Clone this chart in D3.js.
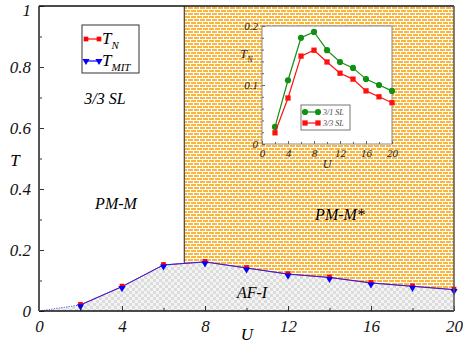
<!DOCTYPE html>
<html>
<head>
<meta charset="utf-8">
<script src="https://d3js.org/d3.v7.min.js"></script>
<style>
  body { margin: 0; background: #fff; }
  svg text { font-family: "Liberation Serif", "DejaVu Serif", serif; font-style: italic; }
</style>
</head>
<body>
<svg id="chart" width="463" height="343"></svg>
<script>
// main phase diagram data
var uVals = [2, 4, 6, 8, 10, 12, 14, 16, 18, 20];
var tN = [0.02, 0.08, 0.151, 0.161, 0.141, 0.121, 0.11, 0.092, 0.081, 0.07];
var tMIT = [0.02, 0.08, 0.151, 0.161, 0.141, 0.121, 0.11, 0.092, 0.081, 0.07];
var uBoundary = 7;
var mainXTicks = [0, 4, 8, 12, 16, 20];
var mainYTicks = [0, 0.2, 0.4, 0.6, 0.8, 1];
// inset data
var insetU = [2, 4, 6, 8, 10, 12, 14, 16, 18, 20];
var tN31 = [0.029, 0.108, 0.18, 0.19, 0.159, 0.139, 0.129, 0.11, 0.1, 0.09];
var tN33 = [0.019, 0.078, 0.149, 0.159, 0.139, 0.12, 0.11, 0.09, 0.08, 0.07];
var insetXTicks = [0, 4, 8, 12, 16, 20];
var insetYTicks = [0, 0.1, 0.2];

var svg = d3.select("#chart");
var defs = svg.append("defs");

// white brick lines, laid over solid orange
var brick = defs.append("pattern").attr("id", "brick")
  .attr("patternUnits", "userSpaceOnUse").attr("width", 6).attr("height", 6);
brick.append("path")
  .attr("d", "M0,0H6V1H0Z M0,3H6V4H0Z M1,1H2V3H1Z M4,4H5V6H4Z")
  .attr("fill", "#ffffff");

// grey checker, laid over white
var check = defs.append("pattern").attr("id", "check")
  .attr("patternUnits", "userSpaceOnUse").attr("width", 6).attr("height", 6);
check.append("path")
  .attr("d", "M0,0H3V3H0Z M3,3H6V6H3Z")
  .attr("fill", "#dcdcdc");

var m = { left: 39, right: 454, top: 6, bottom: 311 };
var x = d3.scaleLinear().domain([0, 20]).range([m.left, m.right]);
var y = d3.scaleLinear().domain([0, 1]).range([m.bottom, m.top]);

var pts = uVals.map(function(u, i) { return [u, tMIT[i]]; });
var full = [[0, 0]].concat(pts);

// AF-I region
var lowArea = d3.area().x(function(d) { return x(d[0]); }).y0(y(0)).y1(function(d) { return y(d[1]); });
svg.append("path").datum(full).attr("fill", "#f4f4f4").attr("d", lowArea);
svg.append("path").datum(full).attr("fill", "url(#check)").attr("d", lowArea);

// PM-M* region: from U=7 above the curve
var interp = d3.scaleLinear().domain(uVals).range(tMIT);
var upper = [[uBoundary, interp(uBoundary)]].concat(pts.filter(function(d) { return d[0] > uBoundary; }));
var upArea = d3.area().x(function(d) { return x(d[0]); }).y0(y(1)).y1(function(d) { return y(d[1]); });
svg.append("path").datum(upper).attr("fill", "#fbb43c").attr("d", upArea);
svg.append("path").datum(upper).attr("fill", "url(#brick)").attr("d", upArea);
svg.append("line")
  .attr("x1", x(uBoundary)).attr("x2", x(uBoundary))
  .attr("y1", y(1)).attr("y2", y(interp(uBoundary)))
  .attr("stroke", "#222").attr("stroke-width", 1);

// curves
var line = d3.line().x(function(d) { return x(d[0]); }).y(function(d) { return y(d[1]); });
svg.append("path").datum([[0, 0], pts[0]])
  .attr("fill", "none").attr("stroke", "#4040ff").attr("stroke-width", 1).attr("stroke-dasharray", "1,1.5").attr("d", line);
svg.append("path").datum(uVals.map(function(u, i) { return [u, tN[i]]; }))
  .attr("fill", "none").attr("stroke", "#ff3030").attr("stroke-width", 1).attr("d", line);
svg.append("path").datum(pts)
  .attr("fill", "none").attr("stroke", "#2020ff").attr("stroke-width", 1).attr("d", line);

var sq = d3.symbol().type(d3.symbolSquare).size(22);
var tri = d3.symbol().type(d3.symbolTriangle).size(22);
svg.selectAll(".sqN").data(uVals).enter().append("path")
  .attr("d", sq).attr("fill", "#ff0000")
  .attr("transform", function(u, i) { return "translate(" + x(u) + "," + (y(tN[i]) - 0.5) + ")"; });
svg.selectAll(".triM").data(uVals).enter().append("path")
  .attr("d", tri).attr("fill", "#0000ff")
  .attr("transform", function(u, i) { return "translate(" + x(u) + "," + (y(tMIT[i]) + 1.5) + ") rotate(180)"; });

// axes
var xAxis = d3.axisBottom(x).tickValues(mainXTicks).tickSize(-5).tickPadding(9).tickFormat(d3.format("d"));
var xMinor = d3.axisBottom(x).tickValues(d3.range(2, 20, 4)).tickSize(-3).tickFormat("");
var yAxis = d3.axisLeft(y).tickValues(mainYTicks).tickSize(-5).tickPadding(8).tickFormat(function(d) { return d === 0 || d === 1 ? d : d3.format(".1f")(d); });
var yMinor = d3.axisLeft(y).tickValues(d3.range(0.1, 1, 0.2)).tickSize(-3).tickFormat("");

function styleAxis(g) {
  g.select(".domain").remove();
  g.selectAll("line").attr("stroke", "#333");
  g.selectAll("text").attr("fill", "#111").style("font-size", "17px");
}
svg.append("g").attr("transform", "translate(0," + m.bottom + ")").call(xAxis).call(styleAxis);
svg.append("g").attr("transform", "translate(0," + m.bottom + ")").call(xMinor).call(styleAxis);
var yG = svg.append("g").attr("transform", "translate(" + m.left + ",0)").call(yAxis).call(styleAxis);
// keep the top label inside the picture
yG.selectAll(".tick text").filter(function(d) { return d === 1; }).attr("dy", "0.55em");
svg.append("g").attr("transform", "translate(" + m.left + ",0)").call(yMinor).call(styleAxis);

// frame
svg.append("line").attr("x1", m.left).attr("x2", m.right).attr("y1", m.bottom).attr("y2", m.bottom).attr("stroke", "#111").attr("stroke-width", 1.5);
svg.append("line").attr("x1", m.left).attr("x2", m.left).attr("y1", m.top).attr("y2", m.bottom).attr("stroke", "#555").attr("stroke-width", 2);
svg.append("line").attr("x1", m.left).attr("x2", m.right).attr("y1", m.top).attr("y2", m.top).attr("stroke", "#111").attr("stroke-width", 1.5);
svg.append("line").attr("x1", m.right).attr("x2", m.right).attr("y1", m.top).attr("y2", m.bottom).attr("stroke", "#555").attr("stroke-width", 1.5);

svg.append("text").attr("x", 15).attr("y", 166).attr("text-anchor", "middle").style("font-size", "17px").text("T");
svg.append("text").attr("x", 247).attr("y", 340).attr("text-anchor", "middle").style("font-size", "17px").text("U");

// region labels
svg.append("text").attr("x", 105).attr("y", 104).attr("text-anchor", "middle").style("font-size", "16px").text("3/3 SL");
svg.append("text").attr("x", 116).attr("y", 209).attr("text-anchor", "middle").style("font-size", "16px").text("PM-M");
svg.append("text").attr("x", 340).attr("y", 220).attr("text-anchor", "middle").style("font-size", "16px").text("PM-M*");
svg.append("text").attr("x", 252).attr("y", 298).attr("text-anchor", "middle").style("font-size", "16px").text("AF-I");

// main legend
var lg = svg.append("g");
lg.append("rect").attr("x", 82).attr("y", 25).attr("width", 57).attr("height", 48).attr("fill", "#fff").attr("stroke", "#333");
[{ c: "#ff0000", s: sq, y: 39, sub: "N", r: 0 }, { c: "#0000ff", s: tri, y: 61, sub: "MIT", r: 180 }].forEach(function(e) {
  lg.append("line").attr("x1", 86).attr("x2", 99).attr("y1", e.y).attr("y2", e.y).attr("stroke", e.c).attr("stroke-width", 1.2);
  [86, 99].forEach(function(px) {
    lg.append("path").attr("d", e.s).attr("fill", e.c).attr("transform", "translate(" + px + "," + e.y + ") rotate(" + e.r + ")");
  });
  var t = lg.append("text").attr("x", 102).attr("y", e.y + 5).style("font-size", "17px");
  t.append("tspan").text("T");
  t.append("tspan").attr("dy", 5).style("font-size", "11px").text(e.sub);
});

// inset
var ins = { left: 262, right: 392, top: 26, bottom: 144 };
var ix = d3.scaleLinear().domain([0, 20]).range([ins.left, ins.right]);
var iy = d3.scaleLinear().domain([0, 0.2]).range([ins.bottom, ins.top]);
svg.append("rect").attr("x", ins.left).attr("y", ins.top).attr("width", ins.right - ins.left).attr("height", ins.bottom - ins.top)
  .attr("fill", "#fff").attr("stroke", "#888").attr("stroke-width", 1);

var iline = d3.line().x(function(d) { return ix(d[0]); }).y(function(d) { return iy(d[1]); });
var series = [
  { name: "3/1 SL", vals: tN31, c: "#119011", shape: d3.symbol().type(d3.symbolCircle).size(30) },
  { name: "3/3 SL", vals: tN33, c: "#ff1010", shape: d3.symbol().type(d3.symbolSquare).size(28) }
];
series.forEach(function(s) {
  svg.append("path").datum(insetU.map(function(u, i) { return [u, s.vals[i]]; }))
    .attr("fill", "none").attr("stroke", s.c).attr("stroke-width", 1.2).attr("d", iline);
  svg.selectAll(null).data(insetU).enter().append("path")
    .attr("d", s.shape).attr("fill", s.c)
    .attr("transform", function(u, i) { return "translate(" + ix(u) + "," + iy(s.vals[i]) + ")"; });
});

var ixAxis = d3.axisBottom(ix).tickValues(insetXTicks).tickSize(-3).tickPadding(5).tickFormat(d3.format("d"));
var ixMinor = d3.axisBottom(ix).tickValues(d3.range(2, 20, 4)).tickSize(-2).tickFormat("");
var iyAxis = d3.axisLeft(iy).tickValues(insetYTicks).tickSize(-3).tickPadding(4).tickFormat(function(d) { return d === 0 ? "0" : d3.format(".1f")(d); });
var iyMinor = d3.axisLeft(iy).tickValues([0.02, 0.04, 0.06, 0.08, 0.12, 0.14, 0.16, 0.18]).tickSize(-2).tickFormat("");
function styleInset(g) {
  g.select(".domain").remove();
  g.selectAll("line").attr("stroke", "#666");
  g.selectAll("text").attr("fill", "#222").style("font-size", "11px");
}
svg.append("g").attr("transform", "translate(0," + ins.bottom + ")").call(ixAxis).call(styleInset);
svg.append("g").attr("transform", "translate(0," + ins.bottom + ")").call(ixMinor).call(styleInset);
svg.append("g").attr("transform", "translate(" + ins.left + ",0)").call(iyAxis).call(styleInset);
svg.append("g").attr("transform", "translate(" + ins.left + ",0)").call(iyMinor).call(styleInset);

svg.append("text").attr("x", 327).attr("y", 168).attr("text-anchor", "middle").attr("fill", "#222").style("font-size", "12px").text("U");
var tn = svg.append("text").attr("x", 240).attr("y", 58).attr("fill", "#222").style("font-size", "13px");
tn.append("tspan").text("T");
tn.append("tspan").attr("dy", 4).style("font-size", "8px").text("N");

// inset legend
var il = svg.append("g");
il.append("rect").attr("x", 301).attr("y", 105).attr("width", 49).attr("height", 25).attr("fill", "#fff").attr("stroke", "#777");
series.forEach(function(s, k) {
  var yy = 112 + k * 11;
  il.append("line").attr("x1", 305).attr("x2", 318).attr("y1", yy).attr("y2", yy).attr("stroke", s.c).attr("stroke-width", 1.2);
  [305, 318].forEach(function(px) {
    il.append("path").attr("d", s.shape).attr("fill", s.c).attr("transform", "translate(" + px + "," + yy + ")");
  });
  il.append("text").attr("x", 323).attr("y", yy + 3).attr("fill", "#444").style("font-size", "8px").text(s.name);
});
</script>
</body>
</html>
